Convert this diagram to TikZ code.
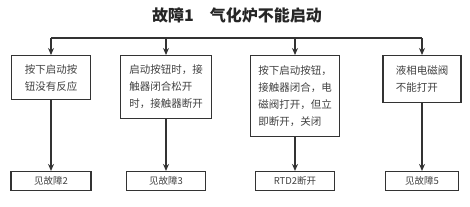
\documentclass[tikz,border=0pt]{standalone}
\usepackage{fontspec}
\newfontfamily\cjk{Noto Sans CJK SC}
\usetikzlibrary{arrows.meta}
\tikzset{
  box/.style={draw=black!80,line width=1.1pt,align=left,inner sep=4pt,
    font=\cjk\fontsize{10.5}{17}\selectfont,text=black!75},
  result/.style={draw=black!80,line width=1.1pt,minimum height=19pt,inner sep=2pt,
    font=\cjk\fontsize{9.5}{11}\selectfont,text=black!75},
  feed/.style={draw=black!80,line width=1.1pt,-{Stealth[length=7pt,width=6pt]}}
}
\begin{document}
\begin{tikzpicture}[x=1pt,y=-1pt]
\useasboundingbox (0,0) rectangle (470,206);
\node[font=\cjk\bfseries\fontsize{16}{18}\selectfont,text=black!85] (title) at (237,15) {故障1\quad 气化炉不能启动};
% first row
\node[box,anchor=north,minimum width=79pt,minimum height=44pt] (t1) at (51,55) {按下启动按\\钮没有反应};
\node[box,anchor=north,minimum width=91pt,minimum height=63pt] (t2) at (166,55) {启动按钮时，接\\触器闭合松开\\时，接触器断开};
\node[box,anchor=north,minimum width=89pt,minimum height=81pt] (t3) at (295,55) {按下启动按钮，\\接触器闭合，电\\磁阀打开，但立\\即断开，关闭};
\node[box,anchor=north,minimum width=78pt,minimum height=47pt] (t4) at (422,55) {液相电磁阀\\不能打开};
% bus
\coordinate (bl) at (t1.north |- 0,38);
\coordinate (br) at (t4.north |- 0,38);
\draw[draw=black!80,line width=1.1pt] (bl) -- (br);
\foreach \i in {1,...,4}{
  \draw[feed] (t\i.north |- bl) -- (t\i.north);
}
% second row
\foreach \i/\w/\lab in {1/80/{见故障2},2/79/{见故障3},3/79/{RTD2断开},4/73/{见故障5}}{
  \node[result,minimum width=\w pt] (r\i) at (t\i.south |- 0,181) {\lab};
  \draw[feed] (t\i.south) -- (r\i.north);
}
\end{tikzpicture}
\end{document}
